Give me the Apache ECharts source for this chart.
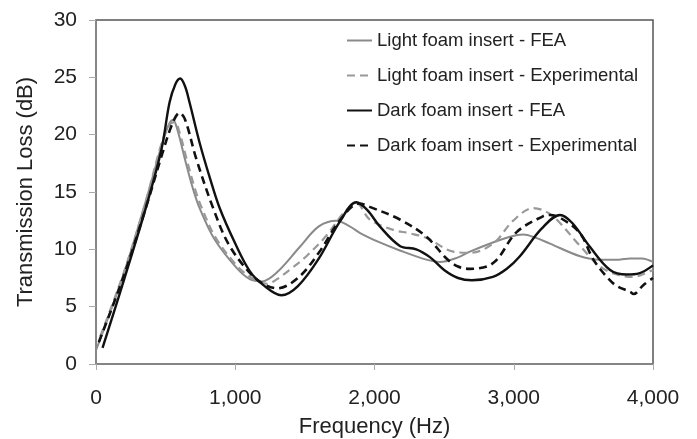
<!DOCTYPE html>
<html lang="en">

<head>
    <meta charset="UTF-8">
    <title>Transmission Loss</title>
    <script src="https://cdn.jsdelivr.net/npm/echarts@6/dist/echarts.min.js"></script>
    <style>
        body { margin: 0; background: #fff; }
        #chart1 { width: 697px; height: 439px; }
    </style>
</head>

<body>
    <div id="chart1"></div>
    <script>
        // [frequency (Hz), transmission loss (dB)]
        var lightFEA = [[0, 1.2], [200, 7.9], [360, 14.3], [470, 19.0], [520, 20.8], [553, 21.3], [585, 20.4], [640, 17.8], [696, 15.3], [744, 13.6], [850, 10.9], [1008, 8.4], [1104, 7.4], [1190, 7.2], [1300, 8.0], [1463, 10.2], [1600, 12.0], [1727, 12.5], [1822, 12.0], [1900, 11.4], [2038, 10.6], [2182, 9.9], [2373, 9.1], [2470, 8.9], [2600, 9.3], [2685, 9.8], [2850, 10.6], [2973, 11.1], [3068, 11.3], [3160, 11.0], [3260, 10.5], [3476, 9.4], [3620, 9.1], [3750, 9.1], [3836, 9.2], [3920, 9.2], [4000, 8.9]];
        var lightExp = [[30, 2.4], [200, 8.0], [360, 14.3], [470, 19.2], [530, 20.9], [565, 21.1], [600, 20.2], [650, 17.9], [710, 15.3], [760, 13.6], [860, 11.0], [1010, 8.6], [1120, 7.5], [1230, 7.0], [1300, 7.4], [1400, 8.3], [1511, 9.4], [1655, 11.2], [1780, 13.2], [1870, 14.0], [1966, 12.6], [2134, 11.7], [2250, 11.4], [2373, 11.0], [2565, 9.8], [2685, 9.7], [2852, 10.5], [2996, 12.5], [3140, 13.6], [3230, 13.3], [3308, 12.6], [3476, 10.3], [3620, 8.5], [3740, 7.8], [3860, 7.6], [3980, 8.1], [4000, 8.2]];
        var darkFEA = [[47, 1.4], [200, 7.3], [360, 13.7], [470, 18.7], [528, 22.8], [570, 24.4], [605, 24.9], [640, 24.2], [672, 22.8], [744, 19.3], [816, 16.3], [888, 13.6], [1000, 10.5], [1104, 8.1], [1200, 6.9], [1331, 6.0], [1450, 6.8], [1600, 9.2], [1750, 12.4], [1870, 14.1], [1950, 13.4], [2038, 12.0], [2182, 10.3], [2300, 10.0], [2400, 9.3], [2500, 8.2], [2600, 7.5], [2700, 7.3], [2850, 7.6], [2950, 8.3], [3044, 9.4], [3200, 11.8], [3332, 13.0], [3420, 12.3], [3548, 10.2], [3692, 8.2], [3812, 7.8], [3900, 7.9], [4000, 8.6]];
        var darkExp = [[20, 1.9], [200, 7.7], [360, 13.7], [480, 18.5], [550, 21.0], [600, 21.9], [640, 21.3], [720, 17.9], [838, 13.7], [950, 10.5], [1100, 8.0], [1200, 7.0], [1300, 6.6], [1450, 7.5], [1600, 9.7], [1750, 12.5], [1890, 14.0], [1966, 13.7], [2182, 12.6], [2373, 11.1], [2517, 9.2], [2600, 8.5], [2685, 8.3], [2852, 8.8], [3021, 11.5], [3212, 12.9], [3260, 13.0], [3340, 12.7], [3476, 11.4], [3572, 9.1], [3668, 7.6], [3740, 6.8], [3836, 6.3], [3860, 6.1], [3932, 6.9], [4000, 7.5]];

        var seriesNames = ['Light foam insert - FEA', 'Light foam insert - Experimental', 'Dark foam insert - FEA', 'Dark foam insert - Experimental'];

        var font = '"Liberation Sans", Arial, sans-serif';

        function fmtThousands(v) {
            return String(v).replace(/\B(?=(\d{3})+(?!\d))/g, ',');
        }

        function makeLine(name, data, color, width, dashed) {
            return {
                name: name,
                type: 'line',
                data: data,
                smooth: 0.35,
                symbol: 'none',
                lineStyle: {
                    color: color,
                    width: width,
                    type: dashed ? [8, 5] : 'solid'
                },
                itemStyle: { color: color }
            };
        }

        var chart1 = echarts.init(document.getElementById('chart1'));
        chart1.setOption({
            backgroundColor: '#fff',
            animation: false,
            grid: {
                left: 96,
                right: 44,
                top: 20,
                bottom: 75,
                outerBoundsMode: 'none',
                show: true,
                borderColor: '#555',
                borderWidth: 1.5
            },
            legend: {
                orient: 'vertical',
                left: 341,
                top: 26,
                itemWidth: 25,
                itemHeight: 14,
                itemGap: 16,
                // hide the circle ECharts puts on line legend icons
                itemStyle: { opacity: 0 },
                textStyle: {
                    fontFamily: font,
                    fontSize: 18.5,
                    color: '#222'
                },
                data: seriesNames
            },
            xAxis: {
                type: 'value',
                min: 0,
                max: 4000,
                interval: 1000,
                name: 'Frequency (Hz)',
                nameLocation: 'middle',
                nameGap: 52,
                nameTextStyle: { fontFamily: font, fontSize: 22, color: '#222' },
                axisLine: { lineStyle: { color: '#888', width: 1.5 } },
                axisTick: { show: true, length: 6, lineStyle: { color: '#aaa' } },
                axisLabel: {
                    margin: 24,
                    fontFamily: font,
                    fontSize: 21,
                    color: '#222',
                    formatter: fmtThousands
                },
                splitLine: { show: false }
            },
            yAxis: {
                type: 'value',
                min: 0,
                max: 30,
                interval: 5,
                name: 'Transmission Loss (dB)',
                nameLocation: 'middle',
                nameGap: 59,
                nameTextStyle: { fontFamily: font, fontSize: 22, color: '#222' },
                axisLine: { show: true, lineStyle: { color: '#888', width: 1.5 } },
                axisTick: { show: true, length: 7, lineStyle: { color: '#aaa' } },
                axisLabel: {
                    margin: 19,
                    fontFamily: font,
                    fontSize: 21,
                    color: '#222'
                },
                splitLine: { show: false }
            },
            series: [
                makeLine(seriesNames[0], lightFEA, '#8a8a8a', 2, false),
                makeLine(seriesNames[1], lightExp, '#999999', 2.2, true),
                makeLine(seriesNames[2], darkFEA, '#111111', 2.4, false),
                makeLine(seriesNames[3], darkExp, '#111111', 2.6, true)
            ]
        });
    </script>
</body>

</html>
